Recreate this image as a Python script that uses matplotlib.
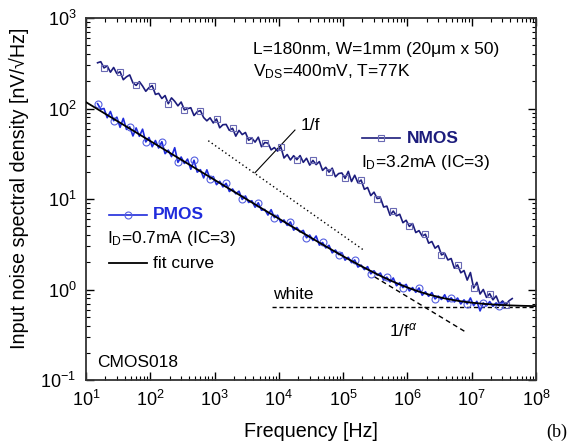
import numpy as np
import matplotlib
matplotlib.use("Agg")
import matplotlib.pyplot as plt
from matplotlib.lines import Line2D

plt.rcParams['font.family'] = ['Liberation Sans', 'DejaVu Sans']
plt.rcParams['mathtext.fontset'] = 'custom'
plt.rcParams['mathtext.rm'] = 'Liberation Sans'
plt.rcParams['mathtext.it'] = 'Liberation Sans:italic'
plt.rcParams['mathtext.bf'] = 'Liberation Sans:bold'

# analyzer sweep: log-spaced frequency points [Hz]
freq = np.logspace(1.18, 7.63, 130)

# measured input-referred noise [nV/sqrt(Hz)]
nmos = [320, 329, 281, 295, 252, 284, 243, 255, 208, 224,
        235, 192, 180, 198, 177, 155, 170, 179, 143, 147,
        129, 139, 113, 131, 120, 107, 118, 96.6, 99.5, 102,
        83.6, 92.0, 94.8, 79.4, 73.1, 78.9, 69.2, 76.6, 61.2, 66.2,
        66.7, 57.3, 60.4, 49.5, 57.3, 51.5, 54.3, 44.6, 47.1, 42.5,
        48.2, 37.8, 42.0, 41.5, 34.9, 37.0, 33.8, 37.7, 28.4, 31.0,
        27.0, 30.1, 27.2, 30.2, 25.4, 28.2, 23.7, 26.7, 24.0, 25.9,
        20.7, 22.4, 19.8, 21.9, 17.6, 19.1, 19.4, 16.9, 20.2, 15.6,
        18.3, 15.1, 16.2, 12.8, 13.4, 10.9, 11.9, 10.1, 10.3, 8.15,
        8.34, 6.61, 7.36, 6.52, 6.78, 5.47, 5.82, 4.98, 5.35, 4.26,
        4.47, 3.89, 4.08, 3.25, 3.39, 2.86, 3.05, 2.41, 2.51, 2.12,
        2.20, 1.72, 1.87, 1.53, 1.62, 1.27, 1.54, 1.04, 1.20, 0.891,
        1.00, 0.818, 0.900, 0.769, 0.848, 0.693, 0.747, 0.676, 0.75, 0.794]

pmos = [113, 98, 100, 79.1, 92.7, 73.3, 80.2, 61.9, 77.8, 58.7,
        62.8, 49.7, 61.0, 49.3, 59.1, 42.7, 47.8, 37.8, 44.3, 36.6,
        43.0, 31.7, 34.7, 29.4, 36.9, 25.4, 29.1, 24.7, 27.6, 21.3,
        26.8, 19.8, 21.1, 17.1, 21.0, 16.6, 17.7, 14.4, 15.7, 13.6,
        14.9, 12.1, 12.9, 11.4, 12.2, 9.89, 10.8, 9.16, 9.57, 8.11,
        9.08, 7.52, 7.67, 6.65, 7.62, 6.22, 6.62, 5.50, 5.87, 5.11,
        5.58, 4.53, 4.84, 4.31, 4.50, 3.73, 4.00, 3.48, 3.90, 3.09,
        3.31, 2.88, 3.08, 2.54, 2.73, 2.43, 2.55, 2.11, 2.27, 1.98,
        2.12, 1.77, 1.86, 1.66, 1.79, 1.49, 1.61, 1.44, 1.52, 1.27,
        1.37, 1.21, 1.34, 1.10, 1.19, 1.05, 1.14, 0.964, 1.05, 0.931,
        1.04, 0.863, 0.944, 0.841, 0.925, 0.787, 0.847, 0.776, 0.875, 0.733,
        0.809, 0.728, 0.805, 0.692, 0.768, 0.693, 0.806, 0.664, 0.74, 0.58,
        0.711, 0.66, 0.736, 0.652, 0.711, 0.661, 0.721]
freq_p = freq[:len(pmos)]

# PMOS fit: flicker term K/f^s plus white floor (added in quadrature)
fit_k = 10 ** 2.50
fit_slope = 0.43
white_level = 0.645
one_over_f_c = 10 ** 3.095

nmos_color = '#1c1c7c'
nmos_marker = '#6a6ab4'
pmos_color = '#1f2bdc'
pmos_marker = '#5560e0'

fig = plt.figure(figsize=(5.76, 4.43), dpi=100)
ax = fig.add_axes([86 / 576, 1 - 380 / 443, 450 / 576, 362 / 443])

ax.plot(freq, nmos, color=nmos_color, lw=1.2, marker='s', ms=4.5,
        mfc='none', mec=nmos_marker, mew=0.8, markevery=(2, 5), zorder=3)
ax.plot(freq_p, pmos, color=pmos_color, lw=1.2, marker='o', ms=5,
        mfc='none', mec=pmos_marker, mew=0.8, markevery=(0, 5), zorder=3)

f_fit = np.logspace(1, 8, 500)
fit = np.sqrt((fit_k * f_fit ** -fit_slope) ** 2 + white_level ** 2)
ax.plot(f_fit, fit, color='black', lw=1.3, zorder=4)

# asymptotes
f_a = np.logspace(5.49, 6.89, 20)
ax.plot(f_a, fit_k * f_a ** -fit_slope, color='black', lw=1.0,
        ls=(0, (3.5, 2.5)), zorder=2)
f_w = np.array([7.8e3, 1e8])
ax.plot(f_w, [white_level, white_level], color='black', lw=1.0,
        ls=(0, (3, 2)), zorder=2)
f_1 = np.logspace(np.log10(798), np.log10(2.18e5), 20)
ax.plot(f_1, one_over_f_c * f_1 ** -0.5, color='black', lw=1.0,
        ls=(0, (1, 2)), zorder=2)
ax.plot([4.25e3, 1.78e4], [19.5, 57.8], color='black', lw=0.8)

ax.set_xscale('log')
ax.set_yscale('log')
ax.set_xlim(10, 1e8)
ax.set_ylim(0.1, 1000)
ax.tick_params(which='both', direction='in', top=True, right=True,
               labelsize=13, pad=7)
ax.tick_params(which='major', length=6, width=1.0)
ax.tick_params(which='minor', length=3, width=0.8)
ax.xaxis.set_minor_locator(matplotlib.ticker.LogLocator(base=10, subs=np.arange(2, 10), numticks=20))
ax.yaxis.set_minor_locator(matplotlib.ticker.LogLocator(base=10, subs=np.arange(2, 10), numticks=20))
for s in ax.spines.values():
    s.set_linewidth(1.3)
    s.set_color('#333333')

ax.set_xlabel('Frequency [Hz]', fontsize=14.2)
ax.set_ylabel('Input noise spectral density [nV/\u221aHz]', fontsize=14.2)
ax.xaxis.set_label_coords(0.5, -0.115)
ax.yaxis.set_label_coords(-0.127, 0.53)

fs = 12.5
ax.text(0.371, 0.912, 'L=180nm, W=1mm (20\u03bcm x 50)', transform=ax.transAxes,
        fontsize=fs, va='center')
ax.text(0.371, 0.853, r'V$_{\rm DS}$=400mV, T=77K', transform=ax.transAxes,
        fontsize=fs, va='center')

ax.add_line(Line2D([0.613, 0.698], [0.668, 0.668], transform=ax.transAxes,
                   color=nmos_color, lw=1.2))
ax.plot([0.6555], [0.668], transform=ax.transAxes, marker='s', ms=4.5,
        mfc='none', mec=nmos_marker, mew=0.8, ls='none')
ax.text(0.713, 0.668, 'NMOS', transform=ax.transAxes, fontsize=fs,
        fontweight='bold', color=nmos_color, va='center')
ax.text(0.611, 0.600, r'I$_{\rm D}$=3.2mA (IC=3)', transform=ax.transAxes,
        fontsize=fs, va='center')

ax.add_line(Line2D([0.051, 0.136], [0.456, 0.456], transform=ax.transAxes,
                   color=pmos_color, lw=1.2))
ax.plot([0.0935], [0.456], transform=ax.transAxes, marker='o', ms=5,
        mfc='none', mec=pmos_marker, mew=0.8, ls='none')
ax.text(0.149, 0.456, 'PMOS', transform=ax.transAxes, fontsize=fs,
        fontweight='bold', color=pmos_color, va='center')
ax.text(0.047, 0.390, r'I$_{\rm D}$=0.7mA (IC=3)', transform=ax.transAxes,
        fontsize=fs, va='center')
ax.add_line(Line2D([0.051, 0.136], [0.323, 0.323], transform=ax.transAxes,
                   color='black', lw=1.3))
ax.text(0.149, 0.323, 'fit curve', transform=ax.transAxes, fontsize=fs,
        va='center')
ax.text(0.024, 0.047, 'CMOS018', transform=ax.transAxes, fontsize=fs,
        va='center')

ax.text(0.478, 0.702, '1/f', transform=ax.transAxes, fontsize=fs, va='center')
ax.text(10 ** 5.71, 10 ** -0.447, r'1/f$^{\alpha}$', fontsize=fs, va='center')
ax.text(10 ** 3.91, 10 ** -0.06, 'white', fontsize=fs, va='center')

fig.text(0.967, 0.025, '(b)', fontsize=13, family='Liberation Serif',
         ha='center', va='center')

fig.savefig('out.png', dpi=100)
